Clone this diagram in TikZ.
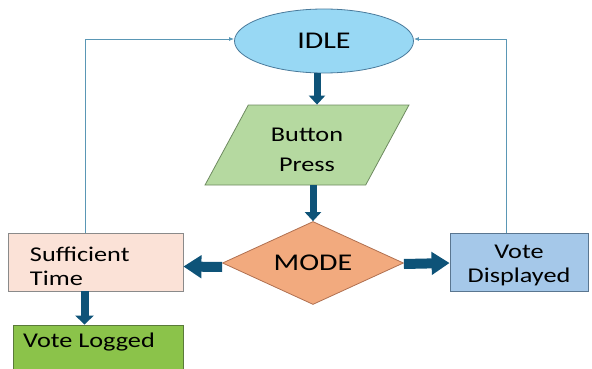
\documentclass[tikz,border=0pt]{standalone}
\usepackage{fontspec}
\setmainfont{Carlito}[FakeStretch=1.25]
\usetikzlibrary{shapes.geometric,arrows.meta,calc}
\definecolor{idlefill}{HTML}{98D8F4}
\definecolor{idleline}{HTML}{4A7A9B}
\definecolor{bpfill}{HTML}{B5D9A0}
\definecolor{bpline}{HTML}{6E8A60}
\definecolor{modefill}{HTML}{F2AA7E}
\definecolor{modeline}{HTML}{B07050}
\definecolor{stfill}{HTML}{FBE2D7}
\definecolor{stline}{HTML}{8A8A8A}
\definecolor{vlfill}{HTML}{8BC34A}
\definecolor{vlline}{HTML}{5A7A3A}
\definecolor{vdfill}{HTML}{A5C8E9}
\definecolor{vdline}{HTML}{5A7690}
\definecolor{arrowc}{HTML}{0E5378}
\definecolor{fbc}{HTML}{5A97B5}
\tikzset{
  bigfont/.style={font=\fontsize{24}{28}\selectfont},
  smallfont/.style={font=\fontsize{21}{24}\selectfont},
  boxnode/.style={rectangle, draw, line width=0.8pt, inner sep=0pt},
  vblock/.style={draw=arrowc, line width=7pt, -{Triangle[length=9pt,width=16pt]}},
  hblock/.style={draw=arrowc, line width=10pt, -{Triangle[length=18pt,width=22pt]}},
  fbline/.style={draw=fbc, line width=0.9pt, -{Latex[length=5pt,width=4pt]}}
}
\begin{document}
\begin{tikzpicture}[x=1pt,y=-1pt]
\useasboundingbox (0,0) rectangle (592,369);
\clip (0,0) rectangle (592,369);
% nodes
\node[ellipse, draw=idleline, fill=idlefill, line width=0.8pt, minimum width=179pt, minimum height=64pt, inner sep=0pt, bigfont] (idle) at (324,41) {IDLE};
\node[trapezium, trapezium stretches=true, trapezium left angle=63.43, trapezium right angle=116.57, draw=bpline, fill=bpfill, line width=0.8pt, minimum width=204pt, minimum height=80pt, inner sep=0pt, align=center, font=\fontsize{21}{30}\selectfont] (bp) at (307,145) {\rule{0pt}{23pt}Button\\Press};
\node[diamond, aspect=2.2, draw=modeline, fill=modefill, line width=0.8pt, minimum width=181pt, minimum height=83pt, inner sep=0pt, bigfont] (mode) at (313,263) {MODE};
\node[boxnode, draw=stline, fill=stfill, minimum width=175pt, minimum height=58pt, text width=131pt, align=left, smallfont] (st) at (95.5,262) {\rule{0pt}{24pt}Sufficient\\Time};
\node[boxnode, draw=vdline, fill=vdfill, minimum width=138pt, minimum height=58pt, align=center, smallfont] (vd) at (519,262) {\rule{0pt}{21pt}Vote\\Displayed};
\node[boxnode, draw=vlline, fill=vlfill, minimum width=170pt, minimum height=50pt] (vl) at (98,350) {};
\node[smallfont, anchor=west, inner sep=0pt] (vltext) at (23,342) {Vote Logged};
% helper coordinates
\coordinate (a1) at ($(bp.north)+(10,0)$);
\coordinate (a3) at ($(st.south)+(-11,0)$);
\coordinate (f1) at ($(st.north)+(-10.5,0)$);
\coordinate (f2) at ($(vd.north)+(-13,0)$);
\coordinate (iw) at ($(idle.west)+(0,-2)$);
\coordinate (ie) at ($(idle.east)+(0,-2)$);
\coordinate (mw) at ($(mode.west)+(0,4)$);
\coordinate (se) at ($(st.east)+(0,4.5)$);
\coordinate (me) at ($(mode.east)+(0,1)$);
\coordinate (vw) at ($(vd.west)+(0,1)$);
% block arrows
\draw[vblock] (a1 |- idle.south) -- (a1);
\draw[vblock] (bp.south -| mode.north) -- (mode.north);
\draw[hblock] (mw) -- (se);
\draw[hblock] (me) -- (vw);
\draw[draw=arrowc, line width=8pt, -{Triangle[length=9pt,width=18pt]}] (a3) -- (a3 |- vl.north);
% feedback lines
\draw[fbline] (f1) |- (iw);
\draw[fbline] (f2) |- (ie);
\end{tikzpicture}
\end{document}
